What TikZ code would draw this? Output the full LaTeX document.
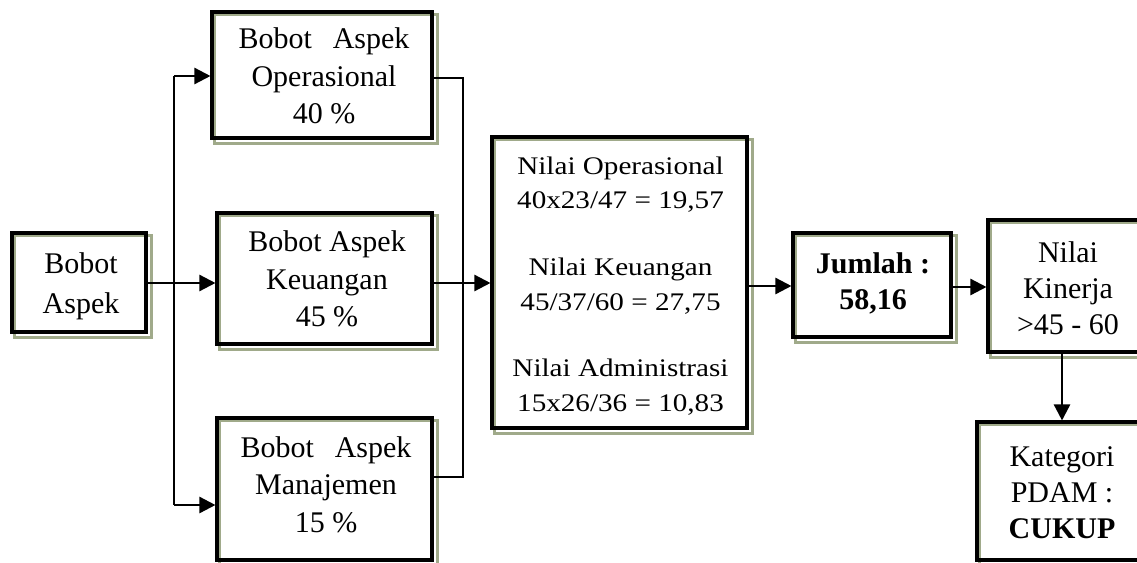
\documentclass[tikz,border=0pt]{standalone}
\usepackage{fontspec}
\setmainfont{Liberation Serif}
\newfontfamily\wideserif{Liberation Serif}[FakeStretch=1.15]
\usetikzlibrary{arrows.meta,fit,backgrounds}
\definecolor{shadowolive}{RGB}{160,170,138}
\tikzset{
  box/.style={draw=black, line width=2.3pt, inner sep=0pt},
  label text/.style={inner sep=0pt, align=center, anchor=center,
    font=\fontsize{22.5}{27}\selectfont},
  wide text/.style={inner sep=0pt, align=center, anchor=center,
    font=\wideserif\fontsize{19}{26}\selectfont},
  link/.style={draw=black, line width=1.8pt},
  arrow/.style={link, -{Triangle[length=12pt,width=12pt]}},
  shadowline/.style={draw=shadowolive, line width=1.8pt}
}
\newcommand{\wgap}{\hspace{0.7em}}
\begin{document}
\begin{tikzpicture}[x=0.75pt, y=-0.75pt]
\useasboundingbox (0,0) rectangle (1137,563);
\clip (0,0) rectangle (1137,563);

% box frames
\node[box, fit={(12,233) (146,332)}] (A) {};
\node[box, fit={(212,12) (432,138)}] (O) {};
\node[box, fit={(217,213) (432,344)}] (K) {};
\node[box, fit={(217,418) (432,560)}] (M) {};
\node[box, fit={(492,137) (747,428)}] (N) {};
\node[box, fit={(793,233) (951,337)}] (J) {};
\node[box, fit={(988,220) (1148,352)}] (P) {};
\node[box, fit={(977,422) (1147,560)}] (C) {};

% box texts
\node[label text, font=\fontsize{22.5}{30}\selectfont] (At) at (81,286) {Bobot\\Aspek};
\node[label text, font=\fontsize{22.5}{28}\selectfont] (Ot) at (324,76) {Bobot\wgap Aspek\\Operasional\\40 \%};
\node[label text, font=\fontsize{22.5}{28}\selectfont] (Kt) at (327,279) {Bobot Aspek\\Keuangan\\45 \%};
\node[label text, font=\fontsize{22.5}{28}\selectfont] (Mt) at (326,484.5) {Bobot\wgap Aspek\\Manajemen\\15 \%};
\node[wide text] (Nt) at (620.5,286) {Nilai Operasional\\40x23/47 = 19,57\\[24pt]
  Nilai Keuangan\\45/37/60 = 27,75\\[24pt]
  Nilai Administrasi\\15x26/36 = 10,83};
\node[label text, font=\bfseries\fontsize{22.5}{27}\selectfont] (Jt) at (873,283.5) {Jumlah :\\58,16};
\node[label text] (Pt) at (1068,288) {Nilai\\Kinerja\\>45 - 60};
\node[label text] (Ct) at (1062,493) {Kategori\\PDAM :\\\textbf{CUKUP}};

% offset outlines behind each box
\begin{pgfonlayer}{background}
  \foreach \n in {A,O,K,M,N,J,P,C}
    \draw[shadowline] ([shift={(4,4)}]\n.north west) rectangle ([shift={(4,4)}]\n.south east);
\end{pgfonlayer}

% branching to the three weight boxes
\coordinate (b1) at (174,76);
\coordinate (b2) at (174,505);
\draw[link] (b1) -- (b2);
\draw[arrow] (b1) -- (b1 -| O.west);
\draw[arrow] (b2) -- (b2 -| M.west);
\draw[arrow] (A.east |- 0,283) -- (K.west |- 0,283);

% collecting into the score box
\coordinate (c1) at (463,78);
\coordinate (c2) at (463,477);
\draw[link] (c1 -| O.east) -- (c1) -- (c2) -- (c2 -| M.east);
\draw[arrow] (K.east |- 0,283) -- (N.west |- 0,283);

% result chain
\draw[arrow] (N.east |- 0,286) -- (J.west |- 0,286);
\draw[arrow] (J.east |- 0,287) -- (P.west |- 0,287);
\draw[arrow] (C.north |- P.south) -- (C.north);
\end{tikzpicture}
\end{document}
